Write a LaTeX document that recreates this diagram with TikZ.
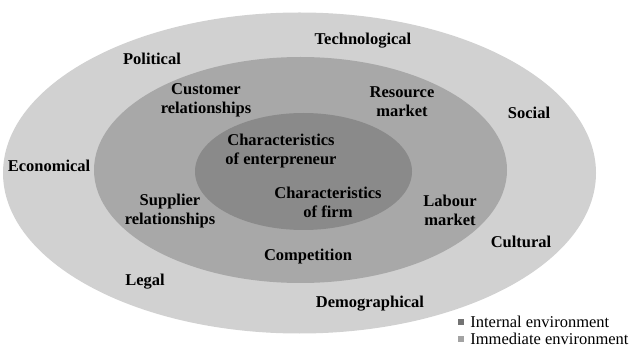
\documentclass[tikz,border=0pt]{standalone}
\usepackage{fontspec}
\setmainfont{Liberation Serif}
\usetikzlibrary{shapes.geometric, positioning}

\definecolor{outergray}{gray}{0.82}
\definecolor{middlegray}{gray}{0.66}
\definecolor{innergray}{gray}{0.54}
\definecolor{keydark}{gray}{0.45}
\definecolor{keylight}{gray}{0.64}

\begin{document}
\begin{tikzpicture}[x=1pt, y=-1pt,
        env/.style={ellipse, inner sep=0pt},
        lbl/.style={font=\bfseries\fontsize{16.5}{19}\selectfont, align=center, inner sep=0pt},
        key/.style={minimum size=6pt, inner sep=0pt},
        keytext/.style={font=\fontsize{16.5}{18}\selectfont, inner sep=0pt, anchor=west}]
        \useasboundingbox (0,0) rectangle (629,347);

        % environments
        \node[env, fill=outergray, minimum width=593pt, minimum height=321pt] (outer) at (299.5,173) {};
        \node[env, fill=middlegray, minimum width=413pt, minimum height=226pt] (middle) at (300.5,170) {};
        \node[env, fill=innergray, minimum width=217pt, minimum height=117pt] (inner) at (303.5,171.5) {};

        % general environment
        \node[lbl] (tech) at (363,41) {Technological};
        \node[lbl] (pol) at (152,59) {Political};
        \node[lbl] (soc) at (529,113) {Social};
        \node[lbl] (eco) at (49,166) {Economical};
        \node[lbl] (cult) at (521,242) {Cultural};
        \node[lbl] (legal) at (145,282) {Legal};
        \node[lbl] (demo) at (370,304) {Demographical};

        % immediate environment
        \node[lbl] (cust) at (206,100) {Customer\\relationships};
        \node[lbl] (res) at (402,102) {Resource\\market};
        \node[lbl] (supp) at (170,211) {Supplier\\relationships};
        \node[lbl] (lab) at (450,210) {Labour\\market};
        \node[lbl] (comp) at (308,257) {Competition};

        % internal environment
        \node[lbl] (entr) at (281,151) {Characteristics\\of enterpreneur};
        \node[lbl] (firm) at (328,202) {Characteristics\\of firm};

        % legend
        \node[key, fill=keydark] (k1) at (461,322) {};
        \node[keytext, right=6pt of k1] (t1) {Internal environment};
        \node[key, fill=keylight] (k2) at (461,339) {};
        \node[keytext, right=6pt of k2] (t2) {Immediate environment};
      \end{tikzpicture}
\end{document}
